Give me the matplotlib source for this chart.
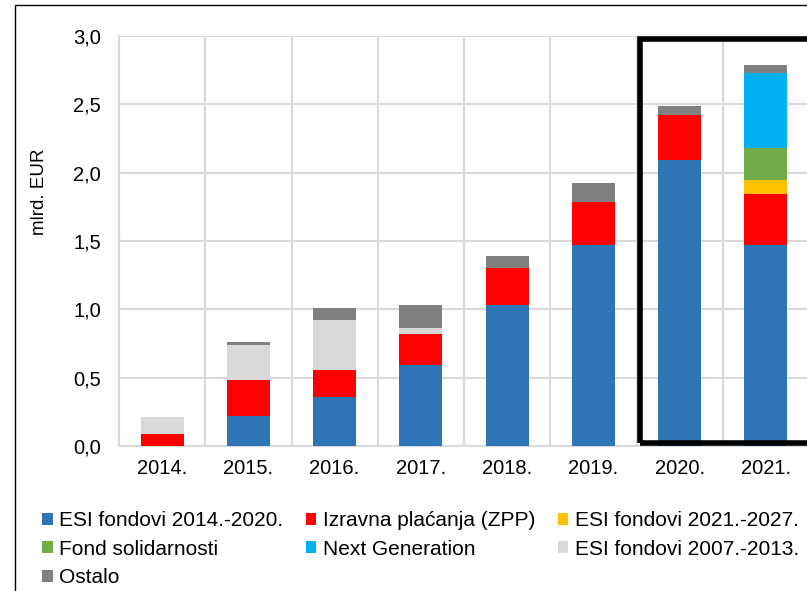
import numpy as np
import matplotlib
matplotlib.use('Agg')
import matplotlib.pyplot as plt
from matplotlib.patches import Rectangle

plt.rcParams['font.family'] = ['Liberation Sans', 'DejaVu Sans']

years = ['2014.', '2015.', '2016.', '2017.', '2018.', '2019.', '2020.', '2021.']
esi_14_20 = [0.0, 0.22, 0.36, 0.59, 1.03, 1.47, 2.09, 1.47]
izravna = [0.09, 0.265, 0.195, 0.23, 0.27, 0.315, 0.33, 0.375]
esi_21_27 = [0, 0, 0, 0, 0, 0, 0, 0.10]
fond_sol = [0, 0, 0, 0, 0, 0, 0, 0.235]
next_gen = [0, 0, 0, 0, 0, 0, 0, 0.55]
esi_07_13 = [0.12, 0.255, 0.365, 0.04, 0, 0, 0, 0]
ostalo = [0, 0.02, 0.09, 0.17, 0.09, 0.14, 0.07, 0.06]

series = [
    ('ESI fondovi 2014.-2020.', esi_14_20, '#2E75B6'),
    ('Izravna plaćanja (ZPP)', izravna, '#FF0000'),
    ('ESI fondovi 2021.-2027.', esi_21_27, '#FFC000'),
    ('Fond solidarnosti', fond_sol, '#70AD47'),
    ('Next Generation', next_gen, '#00B0F0'),
    ('ESI fondovi 2007.-2013.', esi_07_13, '#D9D9D9'),
    ('Ostalo', ostalo, '#808080'),
]

W, H = 807, 591
fig = plt.figure(figsize=(W / 100, H / 100), dpi=100)
ax = fig.add_axes([119 / W, 145 / H, 690 / W, 410 / H])

x = np.arange(len(years))
bottom = np.zeros(len(years))
handles = {}
for name, vals, col in series:
    v = np.array(vals, dtype=float)
    b = ax.bar(x, v, 0.5, bottom=bottom, color=col, label=name, zorder=3)
    handles[name] = b
    bottom += v

ax.set_xlim(-0.5, 7.5)
ax.set_ylim(0, 3.0)
ax.set_yticks(np.arange(0, 3.01, 0.5))
ax.set_yticklabels([format(t, '.1f').replace('.', ',') for t in np.arange(0, 3.01, 0.5)])
ax.set_xticks(x)
ax.set_xticklabels(years)
ax.set_xticks(np.arange(-0.5, 7.6, 1), minor=True)
ax.tick_params(axis='both', which='both', length=0, labelsize=14.5)
ax.tick_params(axis='y', pad=13)
ax.tick_params(axis='x', pad=9)
ax.grid(axis='y', which='major', color='#D9D9D9', lw=1.5, zorder=0)
ax.grid(axis='x', which='minor', color='#D9D9D9', lw=1.5, zorder=0)
for s in ['top', 'right']:
    ax.spines[s].set_visible(False)
for s in ['left', 'bottom']:
    ax.spines[s].set_color('#D9D9D9')
    ax.spines[s].set_linewidth(1.5)

# highlight box for 2020-2021
ax.add_patch(Rectangle((5.535, 0.02), 2.2, 2.958, fill=False, ec='black', lw=4,
                       zorder=5, clip_on=False))

fig.text(40 / W, 1 - 192 / H, 'mlrd. EUR', rotation=90, ha='center', va='center', fontsize=13.5)

# outer frame
fig.add_artist(Rectangle((15 / W, -0.1), 1.2, 1.1 - 5 / H, fill=False, ec='black', lw=1,
                         transform=fig.transFigure))

order = ['ESI fondovi 2014.-2020.', 'Fond solidarnosti', 'Ostalo',
         'Izravna plaćanja (ZPP)', 'Next Generation',
         'ESI fondovi 2021.-2027.', 'ESI fondovi 2007.-2013.']
fig.legend([handles[n] for n in order], order, ncol=3, loc='upper left',
           bbox_to_anchor=(34 / W, 1 - 503 / H), frameon=False, fontsize=15,
           handlelength=0.5, handleheight=0.5, handletextpad=0.3,
           columnspacing=1.1, labelspacing=0.45, borderaxespad=0)

fig.savefig('out.png', dpi=100)
